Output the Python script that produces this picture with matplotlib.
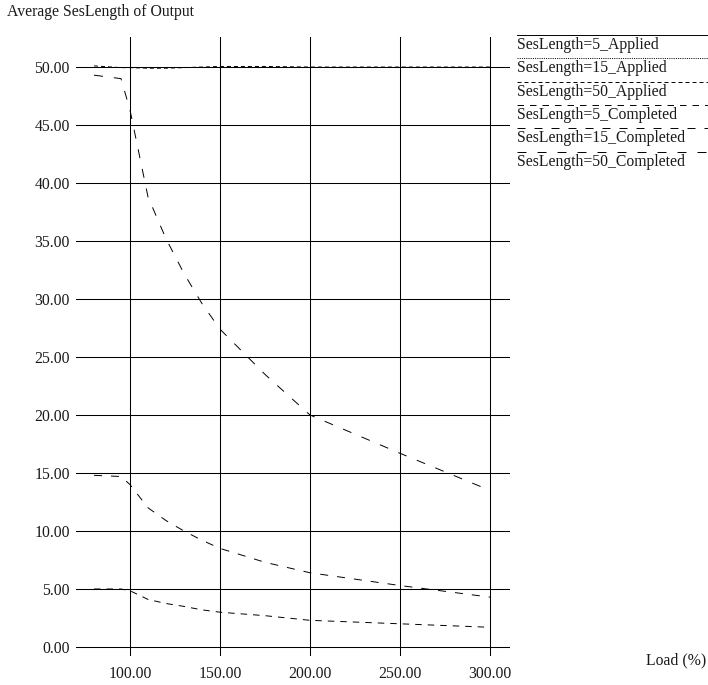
import matplotlib
matplotlib.use('Agg')
import matplotlib.pyplot as plt
from matplotlib.lines import Line2D
from matplotlib.ticker import FormatStrFormatter

plt.rcParams['font.family'] = ['Liberation Serif', 'DejaVu Serif']
plt.rcParams['lines.scale_dashes'] = False

# ---- data ----
load = [80, 95, 100, 110, 120, 130, 140, 150, 175, 200, 250, 300]
applied_5 = [5.0, 5.0, 5.0, 5.0, 5.0, 5.0, 5.0, 5.0, 5.0, 5.0, 5.0, 5.0]
applied_15 = [15.0, 15.0, 15.0, 15.0, 15.0, 15.0, 15.0, 15.0, 15.0, 15.0, 15.0, 15.0]
applied_50 = [50.1, 49.95, 49.95, 49.9, 49.9, 49.95, 50.0, 50.05, 50.05, 50.0, 50.0, 50.0]
completed_5 = [5.0, 5.0, 4.85, 4.1, 3.75, 3.5, 3.2, 3.0, 2.7, 2.3, 2.0, 1.7]
completed_15 = [14.8, 14.7, 14.0, 12.0, 10.9, 10.0, 9.2, 8.5, 7.3, 6.4, 5.3, 4.3]
completed_50 = [49.3, 49.0, 46.3, 38.8, 35.2, 32.2, 29.6, 27.4, 23.5, 20.0, 16.7, 13.5]

series_labels = ['SesLength=5_Applied', 'SesLength=15_Applied', 'SesLength=50_Applied',
                 'SesLength=5_Completed', 'SesLength=15_Completed', 'SesLength=50_Completed']
series_values = [applied_5, applied_15, applied_50, completed_5, completed_15, completed_50]

x_ticks = [100, 150, 200, 250, 300]
y_ticks = [0, 5, 10, 15, 20, 25, 30, 35, 40, 45, 50]

# ---- styles ----
W, H = 708, 685
px = 0.72  # points per pixel at dpi 100
dash_styles = [
    None,
    (0, (1 * px, 1.2 * px)),
    (0, (4 * px, 3 * px)),
    (0, (6.5 * px, 6 * px)),
    (0, (8 * px, 9 * px)),
    (0, (9 * px, 11 * px)),
]
lw = 0.7

fig = plt.figure(figsize=(W / 100, H / 100), dpi=100)
ax = fig.add_axes([76 / W, 1 - 656 / H, (510 - 76) / W, (656 - 37) / H])

for vals, ls in zip(series_values, dash_styles):
    ax.plot(load, vals, color='black', lw=lw, linestyle=ls if ls is not None else '-', zorder=3)

ax.set_xlim(70, 311.1)
ax.set_ylim(-0.776, 52.59)
ax.set_xticks(x_ticks)
ax.set_yticks(y_ticks)
ax.xaxis.set_major_formatter(FormatStrFormatter('%.2f'))
ax.yaxis.set_major_formatter(FormatStrFormatter('%.2f'))
ax.tick_params(length=0, labelsize=11.3, colors='#1a1a1a')
ax.tick_params(axis='y', pad=4.5)
ax.tick_params(axis='x', pad=7)
ax.grid(True, color='black', lw=0.75)
ax.set_axisbelow(True)
for s in ax.spines.values():
    s.set_visible(False)

# titles
fig.text(7 / W, 1 - 12 / H, 'Average SesLength of Output', ha='left', va='center', fontsize=11.3, color='#1a1a1a')
fig.text(706 / W, 1 - 660 / H, 'Load (%)', ha='right', va='center', fontsize=11.3, color='#1a1a1a')

# legend: line above each label
leg_y = [35, 58, 82, 105, 128, 152]
for lab, ls, yy in zip(series_labels, dash_styles, leg_y):
    fig.add_artist(Line2D([517 / W, 1.0], [1 - yy / H, 1 - yy / H], color='black', lw=lw,
                          linestyle=ls if ls is not None else '-', transform=fig.transFigure))
    fig.text(517 / W, 1 - (yy + 10) / H, lab, ha='left', va='center', fontsize=11.3, color='#1a1a1a')

fig.savefig('out.png', dpi=100)
